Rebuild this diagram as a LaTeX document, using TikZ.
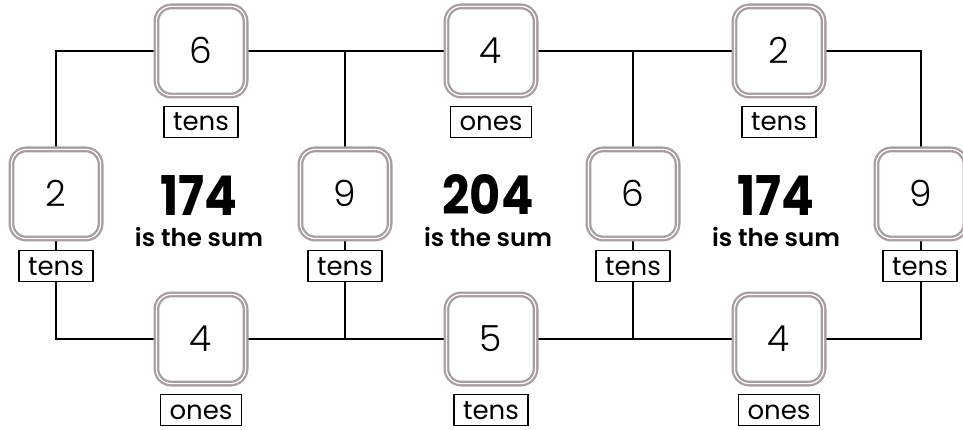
\documentclass[tikz,border=0pt]{standalone}
\usepackage{fontspec}
\usepackage{graphicx}
\setmainfont{Poppins}
\newfontfamily\poplight{Poppins Light}
\newfontfamily\popsemi{Poppins SemiBold}
\usetikzlibrary{backgrounds}
\definecolor{boxgray}{HTML}{A89E9E}
\begin{document}
\begin{tikzpicture}[x=1pt,y=-1pt,
  numbox/.style={draw=boxgray, line width=2.3pt, double=white, double distance=1.2pt,
    fill=white, rounded corners=15pt, minimum size=89.2pt, inner sep=0pt,
    font=\poplight\fontsize{36}{36}\selectfont, text height=25pt, text depth=0pt},
  lab/.style={draw=black, line width=1.6pt, fill=white, inner xsep=9pt, inner ysep=0pt,
    minimum height=31pt, font=\fontsize{26}{26}\selectfont, text height=18pt, text depth=0pt},
  conn/.style={draw=black, line width=1.9pt},
  bignum/.style={anchor=base, inner sep=0pt},
  sumtxt/.style={anchor=base, inner sep=0pt}
]
\useasboundingbox (0,0) rectangle (963,430);

% number boxes
\node[numbox] (t1) at (201,51) {6};
\node[numbox] (t2) at (491,51) {4};
\node[numbox] (t3) at (779,51) {2};
\node[numbox] (m1) at (56,194) {2};
\node[numbox] (m2) at (345,194) {9};
\node[numbox] (m3) at (633,194) {6};
\node[numbox] (m4) at (921,194) {9};
\node[numbox] (b1) at (201,339) {4};
\node[numbox] (b2) at (491,339) {5};
\node[numbox] (b3) at (779,339) {4};

% labels
\node[lab] (lt1) at (201,122) {tens};
\node[lab] (lt2) at (491,122) {ones};
\node[lab] (lt3) at (779,122) {tens};
\node[lab] (lm1) at (56,266) {tens};
\node[lab] (lm2) at (345,266) {tens};
\node[lab] (lm3) at (633,266) {tens};
\node[lab] (lm4) at (920,266) {tens};
\node[lab] (lb1) at (201,410) {ones};
\node[lab] (lb2) at (491,410) {tens};
\node[lab] (lb3) at (779,410) {ones};

% sums
\node[bignum] (s1) at (199,215) {\resizebox{77pt}{40pt}{\bfseries 174}};
\node[bignum] (s2) at (488,215) {\resizebox{91pt}{40pt}{\bfseries 204}};
\node[bignum] (s3) at (776,215) {\resizebox{77pt}{40pt}{\bfseries 174}};
\node[sumtxt] (u1) at (199,247) {\resizebox{128pt}{!}{\popsemi is the sum}};
\node[sumtxt] (u2) at (488,247) {\resizebox{128pt}{!}{\popsemi is the sum}};
\node[sumtxt] (u3) at (776,247) {\resizebox{128pt}{!}{\popsemi is the sum}};

% connectors
\begin{scope}[on background layer]
\draw[conn, line join=miter] (m1.center) |- (t1.center) -- (t2.center) -- (t3.center) -| (m4.center)
   |- (b3.center) -- (b2.center) -- (b1.center) -| (m1.center);
\draw[conn] (m2.center |- t1.center) -- (m2.center) -- (m2.center |- b1.center);
\draw[conn] (m3.center |- t1.center) -- (m3.center) -- (m3.center |- b1.center);
\end{scope}
\end{tikzpicture}
\end{document}
